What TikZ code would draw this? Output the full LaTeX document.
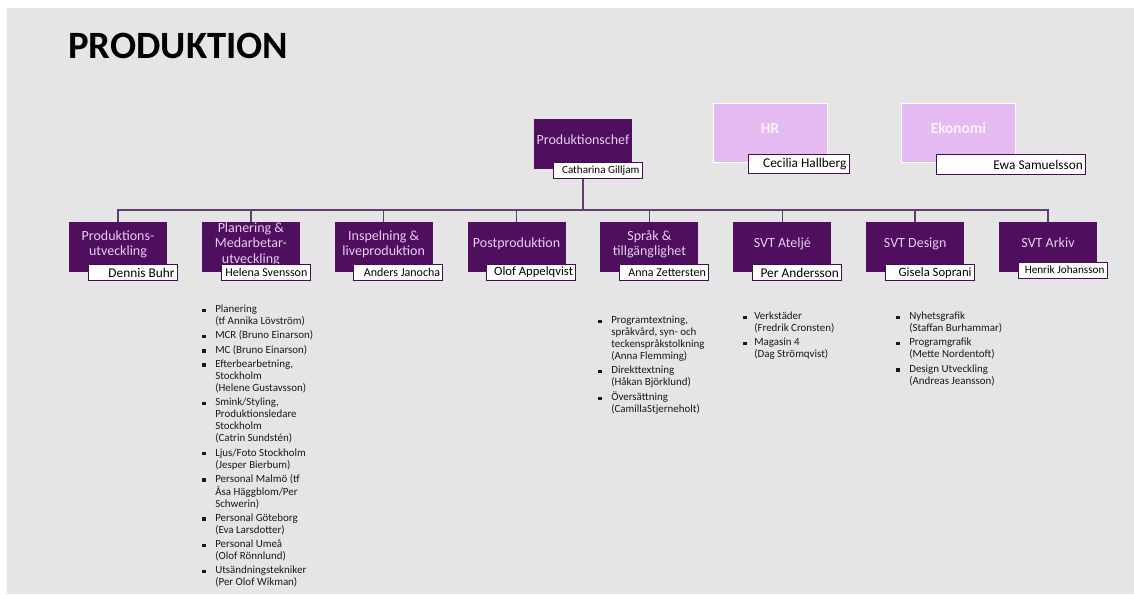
\documentclass[tikz,border=0pt]{standalone}
\usepackage{fontspec}
\setmainfont{Carlito}
\definecolor{bgray}{RGB}{229,229,229}
\definecolor{dpurple}{RGB}{80,14,95}
\definecolor{lpurple}{RGB}{229,185,242}
\definecolor{lavtext}{RGB}{228,208,238}
\definecolor{linecol}{RGB}{96,62,108}
\newcommand{\blt}{\rule[0.5pt]{2.5pt}{2.5pt}}

\begin{document}
\begin{tikzpicture}[x=0.75pt,y=-0.75pt,
  unit/.style={fill=dpurple,text=lavtext,minimum width=73.5pt,minimum height=37.5pt,
    align=center,inner sep=0pt,font=\fontsize{10.5}{11.5}\selectfont,
    execute at end node={\rule[-6pt]{0pt}{0pt}}},
  staff/.style={fill=lpurple,draw=white,line width=0.6pt,text=white!85!lpurple,
    minimum width=85.5pt,minimum height=44.25pt,inner sep=0pt,
    font=\fontsize{11.5}{13}\selectfont\bfseries,
    execute at end node={\rule[-6pt]{0pt}{0pt}}},
  person/.style={fill=white,draw=dpurple!85!black,line width=0.6pt,anchor=north west,
    inner xsep=2pt,inner ysep=0.5pt,text width=62.75pt,minimum height=12pt,align=flush right},
  link/.style={draw=linecol,line width=1.1pt},
  duty/.style={anchor=north west,inner sep=0pt,text=black!90,
    font=\fontsize{8.2}{9}\selectfont}
]
\useasboundingbox (0,0) rectangle (1134,594);
\fill[white] (0,0) rectangle (1134,594);
\fill[bgray] (7,8) rectangle (1134,594);
%\draw[gray!50,step=50] (0,0) grid (1134,594);

\node[anchor=base west,inner sep=0pt,font=\fontsize{29}{34}\selectfont\bfseries] (title) at (68,58) {PRODUKTION};

% top level
\node[unit] (chef) at (583,144) {Produktionschef};
\node[person,xshift=14.25pt,yshift=5.25pt,font=\fontsize{8.3}{9}\selectfont] (cname) at (chef.south west) {Catharina Gilljam};

\node[staff] (hr) at (770,132.5) {HR};
\node[person,xshift=26.25pt,yshift=6pt,text width=71.75pt,minimum height=14.25pt,font=\fontsize{10}{11}\selectfont] (hrname) at (hr.south west) {Cecilia Hallberg};
\node[staff] (eko) at (958.5,132.5) {Ekonomi};
\node[person,xshift=26.25pt,yshift=6pt,text width=107.75pt,minimum height=15pt,font=\fontsize{10}{11}\selectfont] (ekoname) at (eko.south west) {Ewa Samuelsson};

\coordinate (bus) at (583,210);
\draw[link,line width=1.8pt] (chef.south |- cname.south) -- (bus);

% departments
\foreach \i/\dept/\who/\fs/\up in {
  1/{Produktions-\\utveckling}/Dennis Buhr/10/6,
  2/{Planering \&\\Medarbetar-\\utveckling}/Helena Svensson/9/6,
  3/{Inspelning \&\\liveproduktion}/Anders Janocha/9/6,
  4/{Postproduktion}/Olof Appelqvist/9.5/6.5,
  5/{Språk \&\\tillgänglighet}/Anna Zettersten/9/6,
  6/{SVT Ateljé}/Per Andersson/10/6,
  7/{SVT Design}/Gisela Soprani/9.5/6,
  8/{SVT Arkiv}/Henrik Johansson/8.4/8} {
  \node[unit] (u\i) at ({118+(\i-1)*132.86},247) {\dept};
  \node[person,xshift=14.25pt,yshift=\up pt,font=\fontsize{\fs}{\fs}\selectfont] (p\i) at (u\i.south west) {\who};
  \draw[link] (bus) -| (u\i.north);
}

% tasks
\node[duty] (t2) at (202,304) {\begin{tabular}{@{}l@{\hspace{7.25pt}}l@{}}
\blt & Planering\\
 & (tf Annika Lövström)\\[1.7pt]
\blt & MCR (Bruno Einarson)\\[1.7pt]
\blt & MC (Bruno Einarson)\\[1.7pt]
\blt & Efterbearbetning,\\
 & Stockholm\\
 & (Helene Gustavsson)\\[1.7pt]
\blt & Smink/Styling,\\
 & Produktionsledare\\
 & Stockholm\\
 & (Catrin Sundstén)\\[1.7pt]
\blt & Ljus/Foto Stockholm\\
 & (Jesper Bierbum)\\[1.7pt]
\blt & Personal Malmö (tf\\
 & Åsa Häggblom/Per\\
 & Schwerin)\\[1.7pt]
\blt & Personal Göteborg\\
 & (Eva Larsdotter)\\[1.7pt]
\blt & Personal Umeå\\
 & (Olof Rönnlund)\\[1.7pt]
\blt & Utsändningstekniker\\
 & (Per Olof Wikman)
\end{tabular}};

\node[duty] (t5) at (598,315) {\begin{tabular}{@{}l@{\hspace{7.25pt}}l@{}}
\blt & Programtextning,\\
 & språkvård, syn- och\\
 & teckenspråkstolkning\\
 & (Anna Flemming)\\[1.7pt]
\blt & Direkttextning\\
 & (Håkan Björklund)\\[1.7pt]
\blt & Översättning\\
 & (CamillaStjerneholt)
\end{tabular}};

\node[duty] (t6) at (743,311) {\begin{tabular}{@{}l@{\hspace{5.75pt}}l@{}}
\blt & Verkstäder\\
 & (Fredrik Cronsten)\\[1.7pt]
\blt & Magasin 4\\
 & (Dag Strömqvist)
\end{tabular}};

\node[duty] (t7) at (896,311) {\begin{tabular}{@{}l@{\hspace{7.25pt}}l@{}}
\blt & Nyhetsgrafik\\
 & (Staffan Burhammar)\\[1.7pt]
\blt & Programgrafik\\
 & (Mette Nordentoft)\\[1.7pt]
\blt & Design Utveckling\\
 & (Andreas Jeansson)
\end{tabular}};
\end{tikzpicture}
\end{document}
